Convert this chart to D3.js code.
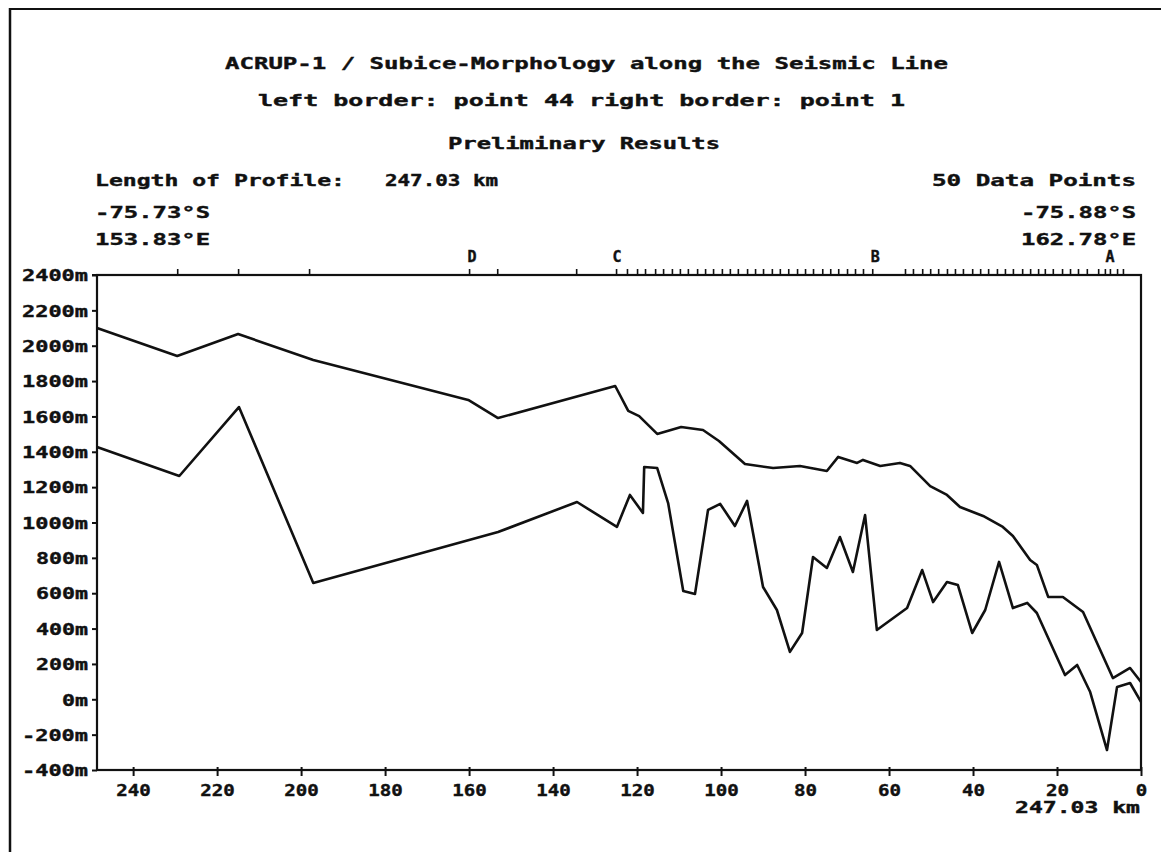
<!DOCTYPE html>
<html>
<head>
<meta charset="utf-8">
<script src="https://cdn.jsdelivr.net/npm/d3@7"></script>
<style>
  html, body { margin: 0; padding: 0; background: #fff; }
  svg { display: block; }
  text { font-family: "DejaVu Sans Mono", "Liberation Mono", monospace; font-weight: bold; fill: #111; stroke: #111; stroke-width: 0.4px; }
</style>
</head>
<body>
<svg id="chart" width="1161" height="852"></svg>
<script>
// ---- data (distance in km from right border, elevation in m) ----
const upperKm = [248.6, 229.5, 215.0, 197.1, 160.2, 153.1, 125.2, 122.1, 119.5, 115.2, 109.5, 104.3, 100.5, 94.3, 87.6, 81.2, 74.8, 72.1, 67.6, 66.2, 62.1, 57.4, 55.0, 50.2, 46.2, 43.1, 37.6, 32.9, 30.5, 26.4, 24.8, 22.1, 18.6, 13.8, 6.7, 2.6, 0];
const upperM  = [2100, 1942, 2066, 1919, 1693, 1591, 1772, 1631, 1602, 1501, 1540, 1523, 1461, 1331, 1308, 1320, 1291, 1371, 1337, 1354, 1320, 1337, 1320, 1206, 1156, 1088, 1037, 975, 924, 788, 760, 579, 579, 494, 120, 177, 98];

const lowerKm = [248.6, 229.0, 214.8, 197.1, 153.1, 134.3, 124.8, 121.7, 118.6, 118.3, 115.2, 112.6, 109.0, 106.2, 103.1, 100.2, 96.7, 93.8, 90.0, 86.7, 83.6, 80.7, 78.1, 74.8, 71.7, 68.6, 65.7, 62.9, 55.7, 52.1, 49.5, 46.2, 43.6, 40.2, 37.1, 33.8, 30.5, 27.1, 24.8, 18.1, 15.2, 12.1, 8.1, 5.7, 2.6, 0];
const lowerM  = [1427, 1263, 1653, 658, 946, 1116, 975, 1156, 1054, 1314, 1308, 1110, 613, 596, 1071, 1105, 980, 1122, 635, 505, 268, 375, 805, 743, 918, 720, 1042, 392, 516, 731, 550, 663, 646, 375, 505, 777, 516, 545, 488, 137, 194, 41, -287, 70, 92, -15];

// shot point positions along the top axis (km)
const shotKm = [229.5, 215.0, 198.1, 160.0, 153.3, 134.5, 125.0, 122.4, 120.0, 118.1, 115.7, 113.8, 111.7, 109.8, 107.9, 105.7, 103.8, 101.9, 99.8, 97.9, 96.0, 93.8, 91.9, 90.0, 87.9, 86.0, 84.0, 81.9, 80.0, 78.1, 75.9, 74.0, 72.1, 70.0, 68.1, 66.2, 64.0, 56.2, 54.3, 52.1, 50.2, 48.3, 46.2, 44.3, 42.4, 40.2, 38.3, 36.4, 34.3, 32.4, 30.5, 28.3, 26.4, 24.5, 22.9, 21.0, 18.8, 16.9, 15.0, 12.9, 10.2, 8.6, 7.4, 5.7, 4.3];
const markerNames = ["D", "C", "B", "A"];
const markerKm    = [159.3, 124.8, 63.3, 7.4];

const xTicks = [240, 220, 200, 180, 160, 140, 120, 100, 80, 60, 40, 20, 0];
const yTicks = [2400, 2200, 2000, 1800, 1600, 1400, 1200, 1000, 800, 600, 400, 200, 0, -200, -400];

const titleLines = [
  "ACRUP-1 / Subice-Morphology along the Seismic Line",
  "left border: point 44 right border: point 1",
  "Preliminary Results"
];
const infoLeft  = ["Length of Profile:", "247.03 km", "-75.73°S", "153.83°E"];
const infoRight = ["50 Data Points", "-75.88°S", "162.78°E"];
const xUnitLabel = "247.03 km";

// ---- layout ----
const svg = d3.select("#chart");
const L = 97, R = 1141, T = 275, B = 770;
const x = d3.scaleLinear().domain([248.6, 0]).range([L, R]);
const y = d3.scaleLinear().domain([2400, -400]).range([T, B]);

// outer page frame
svg.append("line").attr("x1", 10).attr("x2", 10).attr("y1", 8).attr("y2", 852).attr("stroke", "#111").attr("stroke-width", 2.5);
svg.append("line").attr("x1", 10).attr("x2", 1161).attr("y1", 9).attr("y2", 9).attr("stroke", "#111").attr("stroke-width", 2);

function txt(s, x0, base, width, size, anchor) {
  const t = svg.append("text").attr("x", x0).attr("y", base).attr("font-size", size).text(s);
  if (anchor) t.attr("text-anchor", anchor);
  if (width) t.attr("textLength", width).attr("lengthAdjust", "spacingAndGlyphs");
  return t;
}

// titles
txt(titleLines[0], 225, 69, 723, 16);
txt(titleLines[1], 258, 106, 647, 16);
txt(titleLines[2], 448, 149, 272, 16);
txt(infoLeft[0], 95, 186, 250, 16);
txt(infoLeft[1], 385, 186, 113, 16);
txt(infoRight[0], 932, 186, 204, 16);
txt(infoLeft[2], 95, 218, 115, 16);
txt(infoRight[1], 1021, 218, 115, 16);
txt(infoLeft[3], 95, 245, 115, 16);
txt(infoRight[2], 1021, 245, 115, 16);

// markers above the top axis
markerNames.forEach((m, i) => {
  txt(m, x(markerKm[i]), 262, null, 15, "middle");
});

// plot frame
svg.append("rect").attr("x", L).attr("y", T).attr("width", R - L).attr("height", B - T)
  .attr("fill", "none").attr("stroke", "#111").attr("stroke-width", 2.2);

// y axis
const yAxis = d3.axisLeft(y).tickValues(yTicks).tickSize(5).tickFormat(d => d + "m");
const gy = svg.append("g").attr("transform", `translate(${L},0)`).call(yAxis);
gy.select(".domain").remove();
gy.selectAll(".tick line").attr("stroke", "#111").attr("stroke-width", 2);
gy.selectAll(".tick text").attr("x", -9).attr("dy", "0.36em").attr("font-size", 16)
  .attr("textLength", function(d) { return String(d).length * 13 + 13 + (String(d).length > 3 ? 1 : 0); })
  .attr("lengthAdjust", "spacingAndGlyphs");

// x axis
const xAxis = d3.axisBottom(x).tickValues(xTicks).tickSize(5).tickFormat(d => d);
const gx = svg.append("g").attr("transform", `translate(0,${B})`).call(xAxis);
gx.select(".domain").remove();
gx.selectAll(".tick line").attr("stroke", "#111").attr("stroke-width", 2).attr("y1", -3).attr("y2", 6);
gx.selectAll(".tick text").attr("y", 26).attr("dy", 0).attr("font-size", 16)
  .attr("textLength", d => String(d).length * 11.5)
  .attr("lengthAdjust", "spacingAndGlyphs");
txt(xUnitLabel, 1015, 813, 125, 16);

// shot point ticks on top axis
const topAxis = d3.axisTop(x).tickValues(shotKm).tickSize(6).tickFormat("");
const gt = svg.append("g").attr("transform", `translate(0,${T})`).call(topAxis);
gt.select(".domain").remove();
gt.selectAll(".tick line").attr("stroke", "#111").attr("stroke-width", 1.6);
// small outer tick at left of the top axis
svg.append("line").attr("x1", L - 5).attr("x2", L).attr("y1", T).attr("y2", T).attr("stroke", "#111").attr("stroke-width", 2);

// profile lines
const line = d3.line().x(d => x(d[0])).y(d => y(d[1]));
const upper = upperKm.map((k, i) => [k, upperM[i]]);
const lower = lowerKm.map((k, i) => [k, lowerM[i]]);
svg.append("path").datum(upper).attr("d", line).attr("fill", "none").attr("stroke", "#111").attr("stroke-width", 2.6).attr("stroke-linejoin", "round");
svg.append("path").datum(lower).attr("d", line).attr("fill", "none").attr("stroke", "#111").attr("stroke-width", 2.6).attr("stroke-linejoin", "round");
</script>
</body>
</html>
